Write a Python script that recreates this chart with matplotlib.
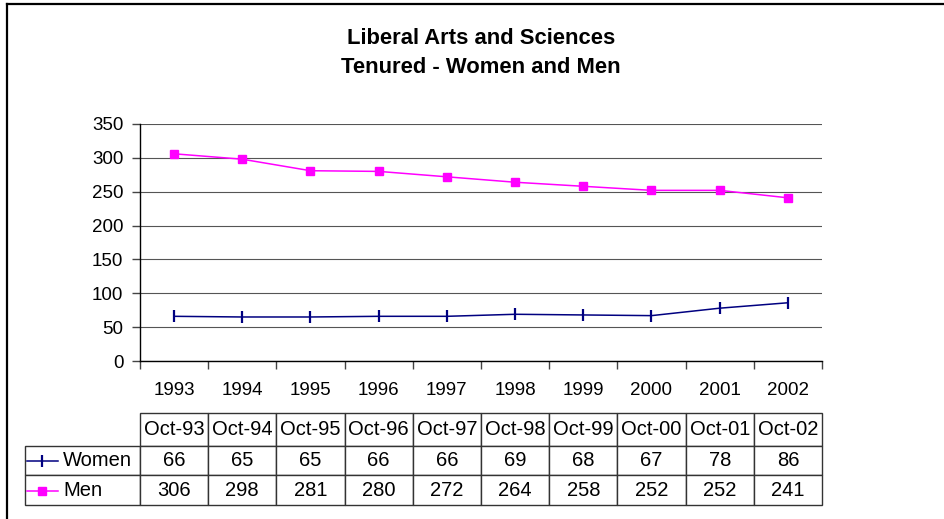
import matplotlib
matplotlib.use("Agg")
import matplotlib.pyplot as plt
from matplotlib.lines import Line2D

plt.rcParams['font.family'] = ['Liberation Sans', 'DejaVu Sans']

years = ['1993', '1994', '1995', '1996', '1997', '1998', '1999', '2000', '2001', '2002']
col_labels = ['Oct-93', 'Oct-94', 'Oct-95', 'Oct-96', 'Oct-97', 'Oct-98', 'Oct-99', 'Oct-00', 'Oct-01', 'Oct-02']
women = [66, 65, 65, 66, 66, 69, 68, 67, 78, 86]
men = [306, 298, 281, 280, 272, 264, 258, 252, 252, 241]
series_names = ['Women', 'Men']
women_color = '#000080'
men_color = '#FF00FF'

W, H = 945, 519
fig = plt.figure(figsize=(W / 100, H / 100), dpi=100)
ax = fig.add_axes([140 / W, 1 - 361 / H, 682 / W, 237 / H])

x = [i + 0.5 for i in range(len(years))]
ax.plot(x, women, color=women_color, lw=1.1, marker='|', ms=9, mew=1.6, clip_on=False, zorder=3)
ax.plot(x, men, color=men_color, lw=1.1, marker='s', ms=6, clip_on=False, zorder=3)

ax.set_xlim(0, len(years))
ax.set_ylim(0, 350)
ax.set_yticks(range(0, 351, 50))
ax.grid(axis='y', color='#555555', lw=0.8)
ax.set_axisbelow(True)

# category boundaries get the tick marks, centres get the labels
ax.set_xticks(range(len(years) + 1))
ax.set_xticklabels([])
ax.set_xticks(x, minor=True)
ax.set_xticklabels(years, minor=True)
ax.tick_params(axis='x', which='major', length=6, width=1, color='#444444', direction='out')
ax.tick_params(axis='x', which='minor', length=0, pad=15, labelsize=13.5)
ax.tick_params(axis='y', length=6, width=1, color='#444444', pad=6, labelsize=13.5)

for s in ['top', 'right']:
    ax.spines[s].set_visible(False)
for s in ['left', 'bottom']:
    ax.spines[s].set_color('black')
    ax.spines[s].set_linewidth(1)

# data table under the plot, first column holds the series names
left_px, right_px = 25, 822
top_px, bot_px = 413, 505
label_w, col_w = 115, 68.2
cell_text = [[series_names[0]] + [str(v) for v in women],
             [series_names[1]] + [str(v) for v in men]]
tbl = ax.table(cellText=cell_text, colLabels=[''] + col_labels,
               colWidths=[label_w] + [col_w] * len(col_labels),
               cellLoc='center',
               bbox=[(left_px - 140) / 682, (361 - bot_px) / 237,
                     (right_px - left_px) / 682, (bot_px - top_px) / 237])
tbl.auto_set_font_size(False)
tbl.set_fontsize(14.5)
row_h = {0: 33, 1: 29, 2: 30}
for (r, c), cell in tbl.get_celld().items():
    cell.set_edgecolor('#333333')
    cell.set_linewidth(1)
    cell.set_height(row_h[r])
    if c == 0:
        if r == 0:
            cell.visible_edges = ''
        else:
            cell.get_text().set_ha('left')
            cell.PAD = 0.33

# legend keys inside the name cells
def ax_x(px):
    return (px - 140) / 682

def ax_y(py):
    return (361 - py) / 237

for color, mk, ms, mew, yc in [(women_color, '|', 9, 1.6, 461),
                               (men_color, 's', 6, 1, 491)]:
    ax.add_line(Line2D([ax_x(27), ax_x(58)], [ax_y(yc)] * 2, color=color, lw=1.1,
                       transform=ax.transAxes, clip_on=False))
    ax.add_line(Line2D([ax_x(42.5)], [ax_y(yc)], color=color, marker=mk, ms=ms, mew=mew,
                       transform=ax.transAxes, clip_on=False))

fig.text(481 / W, 1 - 53.5 / H, 'Liberal Arts and Sciences\nTenured - Women and Men',
         ha='center', va='center', fontsize=15.8, fontweight='bold', linespacing=1.5)

# chart area frame (left and top edges visible)
fig.add_artist(Line2D([7.5 / W, 7.5 / W], [0, 1 - 3.5 / H], color='black', lw=1.6))
fig.add_artist(Line2D([7.5 / W, 1], [1 - 3.5 / H, 1 - 3.5 / H], color='black', lw=1.6))

fig.savefig('out.png', dpi=100)
